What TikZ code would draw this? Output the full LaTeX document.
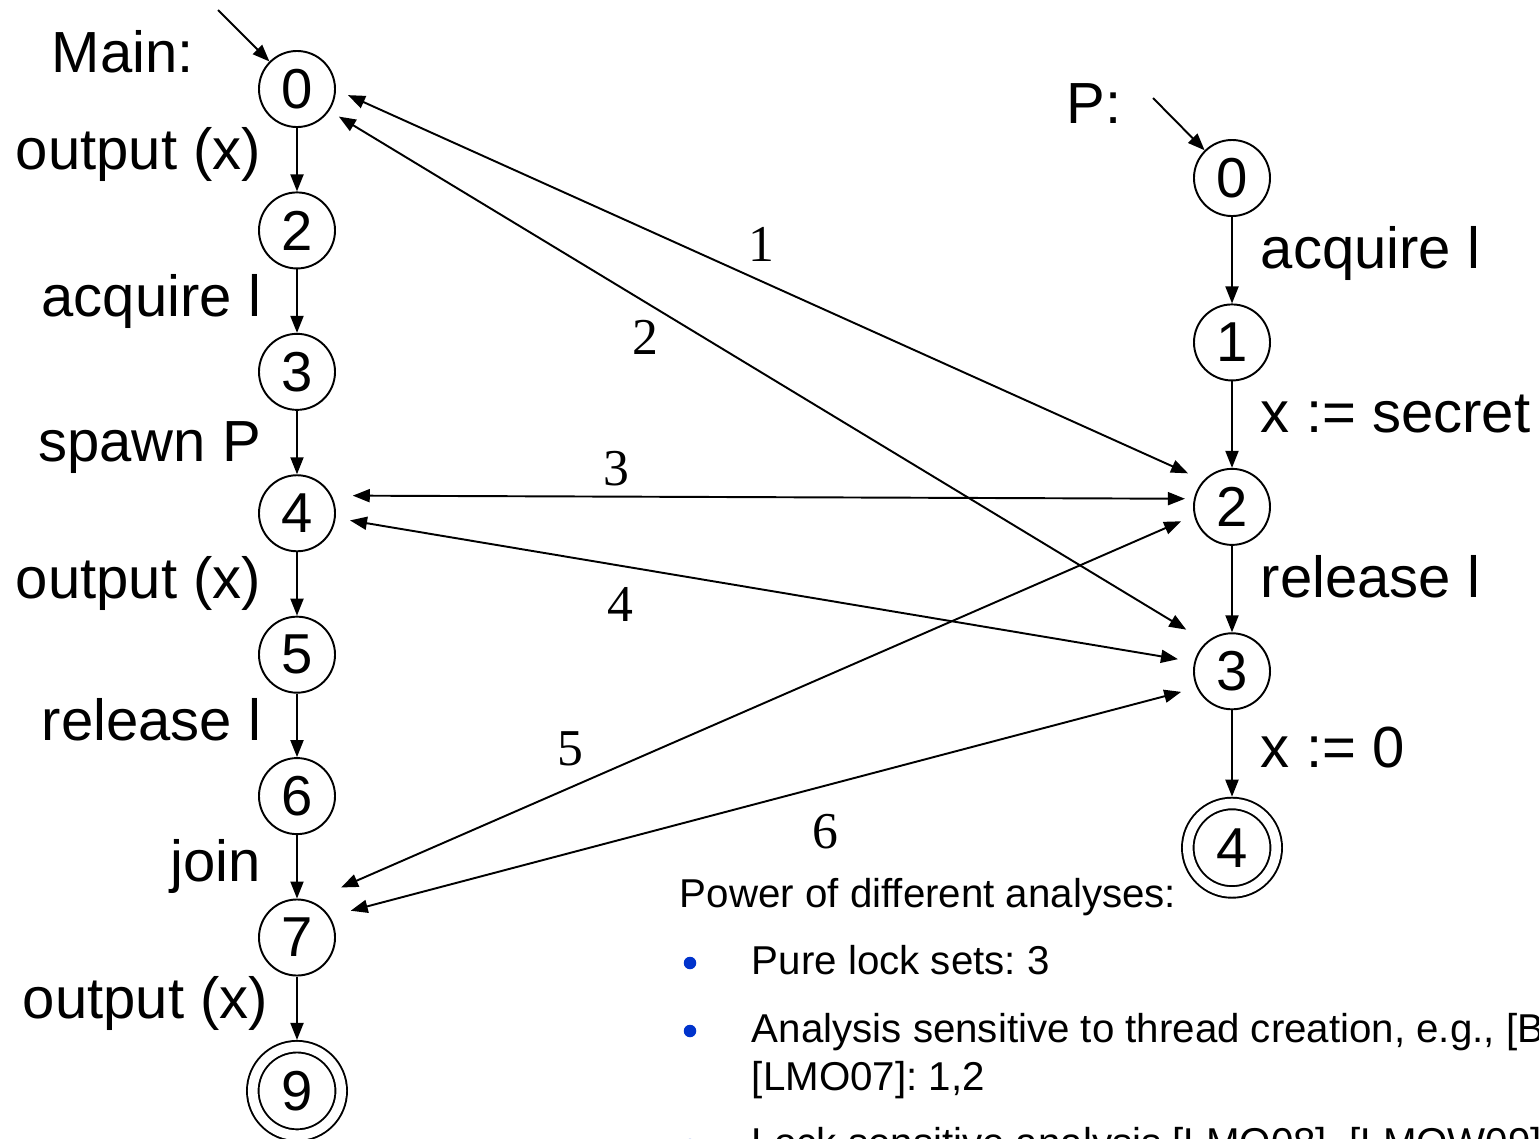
\documentclass[tikz,border=0pt]{standalone}
\usepackage{fontspec}
\setmainfont{Liberation Sans}
\newfontfamily\numfont{Liberation Serif}
\usepackage{xcolor}
\usetikzlibrary{arrows.meta,positioning}
\definecolor{bulletblue}{RGB}{0,51,204}
\frenchspacing

\begin{document}
\begin{tikzpicture}[x=0.01cm, y=-0.01cm, node distance=6.34mm, line width=0.55pt,
  >={Triangle[length=1.7mm,width=1.3mm]},
  state/.style={circle,draw,minimum size=7.6mm,inner sep=0pt,font=\fontsize{16}{19}\selectfont},
  finalst/.style={state,double,double distance=2.73pt,minimum size=8.84mm,outer sep=1.92pt},
  lbl/.style={inner sep=0pt,font=\fontsize{16.5}{20}\selectfont},
  lleft/.style={lbl,midway,anchor=base east,xshift=-3.5mm,yshift=-1.5mm},
  lright/.style={lbl,midway,anchor=base west,xshift=2.8mm,yshift=-0.8mm},
  num/.style={inner sep=0pt,font=\numfont\fontsize{14.7}{17}\selectfont},
  txt/.style={inner sep=0pt,anchor=base west,font=\fontsize{11.45}{13.5}\selectfont},
  bulletdot/.style={circle,fill=bulletblue,inner sep=0pt,minimum size=1.25mm}]
  \useasboundingbox (0,0) rectangle (1539,1138);
  % main thread
  \node (m0) [state] at (297,89) {0};
  \node (m2) [state, below=of m0] {2};
  \node (m3) [state, below=of m2] {3};
  \node (m4) [state, below=of m3] {4};
  \node (m5) [state, below=of m4] {5};
  \node (m6) [state, below=of m5] {6};
  \node (m7) [state, below=of m6] {7};
  \node (m9) [finalst, below=of m7] {9};
  \node (mainname) [lbl, anchor=base west] at (51,72) {Main:};
  \coordinate (mstart) at (218,10);
  \draw[->] (mstart) -- (m0);
  \draw[->] (m0) -- node[lleft, yshift=0.5mm] {output (x)} (m2);
  \draw[->] (m2) -- node[lleft] {acquire l} (m3);
  \draw[->] (m3) -- node[lleft, yshift=-0.4mm] {spawn P} (m4);
  \draw[->] (m4) -- node[lleft] {output (x)} (m5);
  \draw[->] (m5) -- node[lleft] {release l} (m6);
  \draw[->] (m6) -- node[lleft] {join} (m7);
  \draw[->] (m7) -- node[lleft, xshift=0.7mm, yshift=0.5mm] {output (x)} (m9);
  % thread P
  \node (p0) [state] at (1232,178) {0};
  \node (p1) [state, below=8.64mm of p0] {1};
  \node (p2) [state, below=8.64mm of p1] {2};
  \node (p3) [state, below=8.64mm of p2] {3};
  \node (p4) [finalst, below=8.64mm of p3] {4};
  \node (pname) [lbl, anchor=base west] at (1066,123) {P:};
  \coordinate (pstart) at (1153,98);
  \draw[->] (pstart) -- (p0);
  \draw[->] (p0) -- node[lright] {acquire l} (p1);
  \draw[->] (p1) -- node[lright] {x := secret} (p2);
  \draw[->] (p2) -- node[lright] {release l} (p3);
  \draw[->] (p3) -- node[lright, yshift=-0.6mm] {x := 0} (p4);
  % pairs of states
  \draw[<->, shorten <=1.32mm, shorten >=1.69mm] (m0.359) -- node[num, pos=.49, above=1.85mm] (e1) {1} (p2.137);
  \draw[<->, shorten <=1.11mm, shorten >=2.36mm] (m0.326) -- node[num, pos=.36, below=1.75mm] (e2) {2} (p3.131);
  \draw[<->, shorten <=2.1mm, shorten >=0.89mm] (m4.27) -- node[num, pos=.33, above=1mm] (e3) {3} (p2.168);
  \draw[<->, shorten <=1.45mm, shorten >=1.64mm] (m4.353) -- node[num, pos=.332, below=2.1mm] (e4) {4} (p3.166);
  \draw[<->, shorten <=3.35mm, shorten >=1.41mm] (m7.70) -- node[num, pos=.294, above=2.1mm] (e5) {5} (p2.193);
  \draw[<->, shorten <=2.17mm, shorten >=1.6mm] (m7.33) -- node[num, pos=.572, below=2.75mm] (e6) {6} (p3.205);
  % analyses
  \node (power) [txt] at (679,907) {Power of different analyses:};
  \node (b1) [bulletdot] at (690,963) {};
  \node (it1) [txt] at (751,974) {Pure lock sets: 3};
  \node (b2) [bulletdot] at (690,1031) {};
  \node (it2) [txt] at (751,1042) {Analysis sensitive to thread creation, e.g., [B};
  \node (it2b) [txt] at (751,1090) {[LMO07]: 1,2};
  \node (b3) [bulletdot] at (690,1145) {};
  \node (it3) [txt] at (751,1156) {Lock sensitive analysis [LMO08], [LMOW09]};
\end{tikzpicture}
\end{document}
